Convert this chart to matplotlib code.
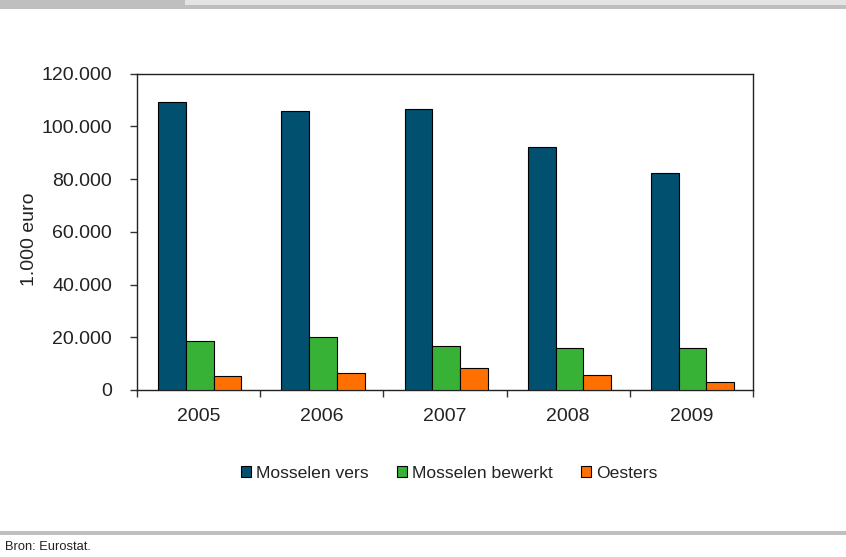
import matplotlib.pyplot as plt
from matplotlib.patches import Rectangle
from matplotlib.ticker import FuncFormatter

years = ['2005', '2006', '2007', '2008', '2009']
mosselen_vers = [109200, 105900, 106400, 92300, 82400]
mosselen_bewerkt = [18500, 20100, 16800, 15800, 15800]
oesters = [5400, 6400, 8200, 5800, 3200]

series = [
    ('Mosselen vers', mosselen_vers, '#025070'),
    ('Mosselen bewerkt', mosselen_bewerkt, '#38b236'),
    ('Oesters', oesters, '#ff7000'),
]

plt.rcParams['font.family'] = ['Liberation Sans', 'DejaVu Sans']

W, H = 846, 557
fig = plt.figure(figsize=(W / 100, H / 100), dpi=100)

# header strip and footer rule
fig.add_artist(Rectangle((0, 1 - 9 / H), 1, 9 / H, transform=fig.transFigure,
                         facecolor='#bfbfbf', edgecolor='none'))
fig.add_artist(Rectangle((185 / W, 1 - 5 / H), 1 - 185 / W, 5 / H,
                         transform=fig.transFigure, facecolor='#e4e4e4', edgecolor='none'))
fig.add_artist(Rectangle((0, 1 - 535 / H), 1, 4 / H, transform=fig.transFigure,
                         facecolor='#bfbfbf', edgecolor='none'))

ax = fig.add_axes([137 / W, 1 - 390 / H, 616 / W, 316.5 / H])

width = 0.225
handles = []
for k, (name, vals, color) in enumerate(series):
    xs = [i + 0.51 + (k - 1) * width for i in range(len(years))]
    b = ax.bar(xs, vals, width, color=color, edgecolor='black', linewidth=0.8,
               label=name, zorder=3)
    handles.append(b)

ax.set_xlim(0, len(years))
ax.set_ylim(0, 120000)
ax.set_yticks(range(0, 120001, 20000))
ax.yaxis.set_major_formatter(FuncFormatter(lambda v, p: f'{int(v):,}'.replace(',', '.')))

ax.set_xticks(range(len(years) + 1))
ax.set_xticklabels([])
ax.set_xticks([i + 0.5 for i in range(len(years))], minor=True)
ax.set_xticklabels(years, minor=True)
ax.tick_params(axis='x', which='major', direction='out', length=5, width=1, color='#333333')
ax.tick_params(axis='x', which='minor', length=0, pad=13, labelsize=14, labelcolor='#222222')
ax.tick_params(axis='y', direction='out', length=5, width=1, color='#333333',
               pad=13, labelsize=14, labelcolor='#222222')

for s in ax.spines.values():
    s.set_color('#222222')
    s.set_linewidth(1)

ax.set_ylabel('1.000 euro', fontsize=14, color='#222222')
ax.yaxis.set_label_coords(-0.1607, 0.477)

fig.legend(handles=handles, loc='center', bbox_to_anchor=(449 / W, 1 - 473 / H), ncol=3,
           frameon=False, fontsize=12.6,
           handlelength=0.57, handleheight=0.57, handletextpad=0.3, columnspacing=1.6,
           labelcolor='#222222')

fig.text(5 / W, 1 - 547 / H, 'Bron: Eurostat.', fontsize=9.3,
         color='#222222', va='center', ha='left')

fig.savefig('out.png', dpi=100)
